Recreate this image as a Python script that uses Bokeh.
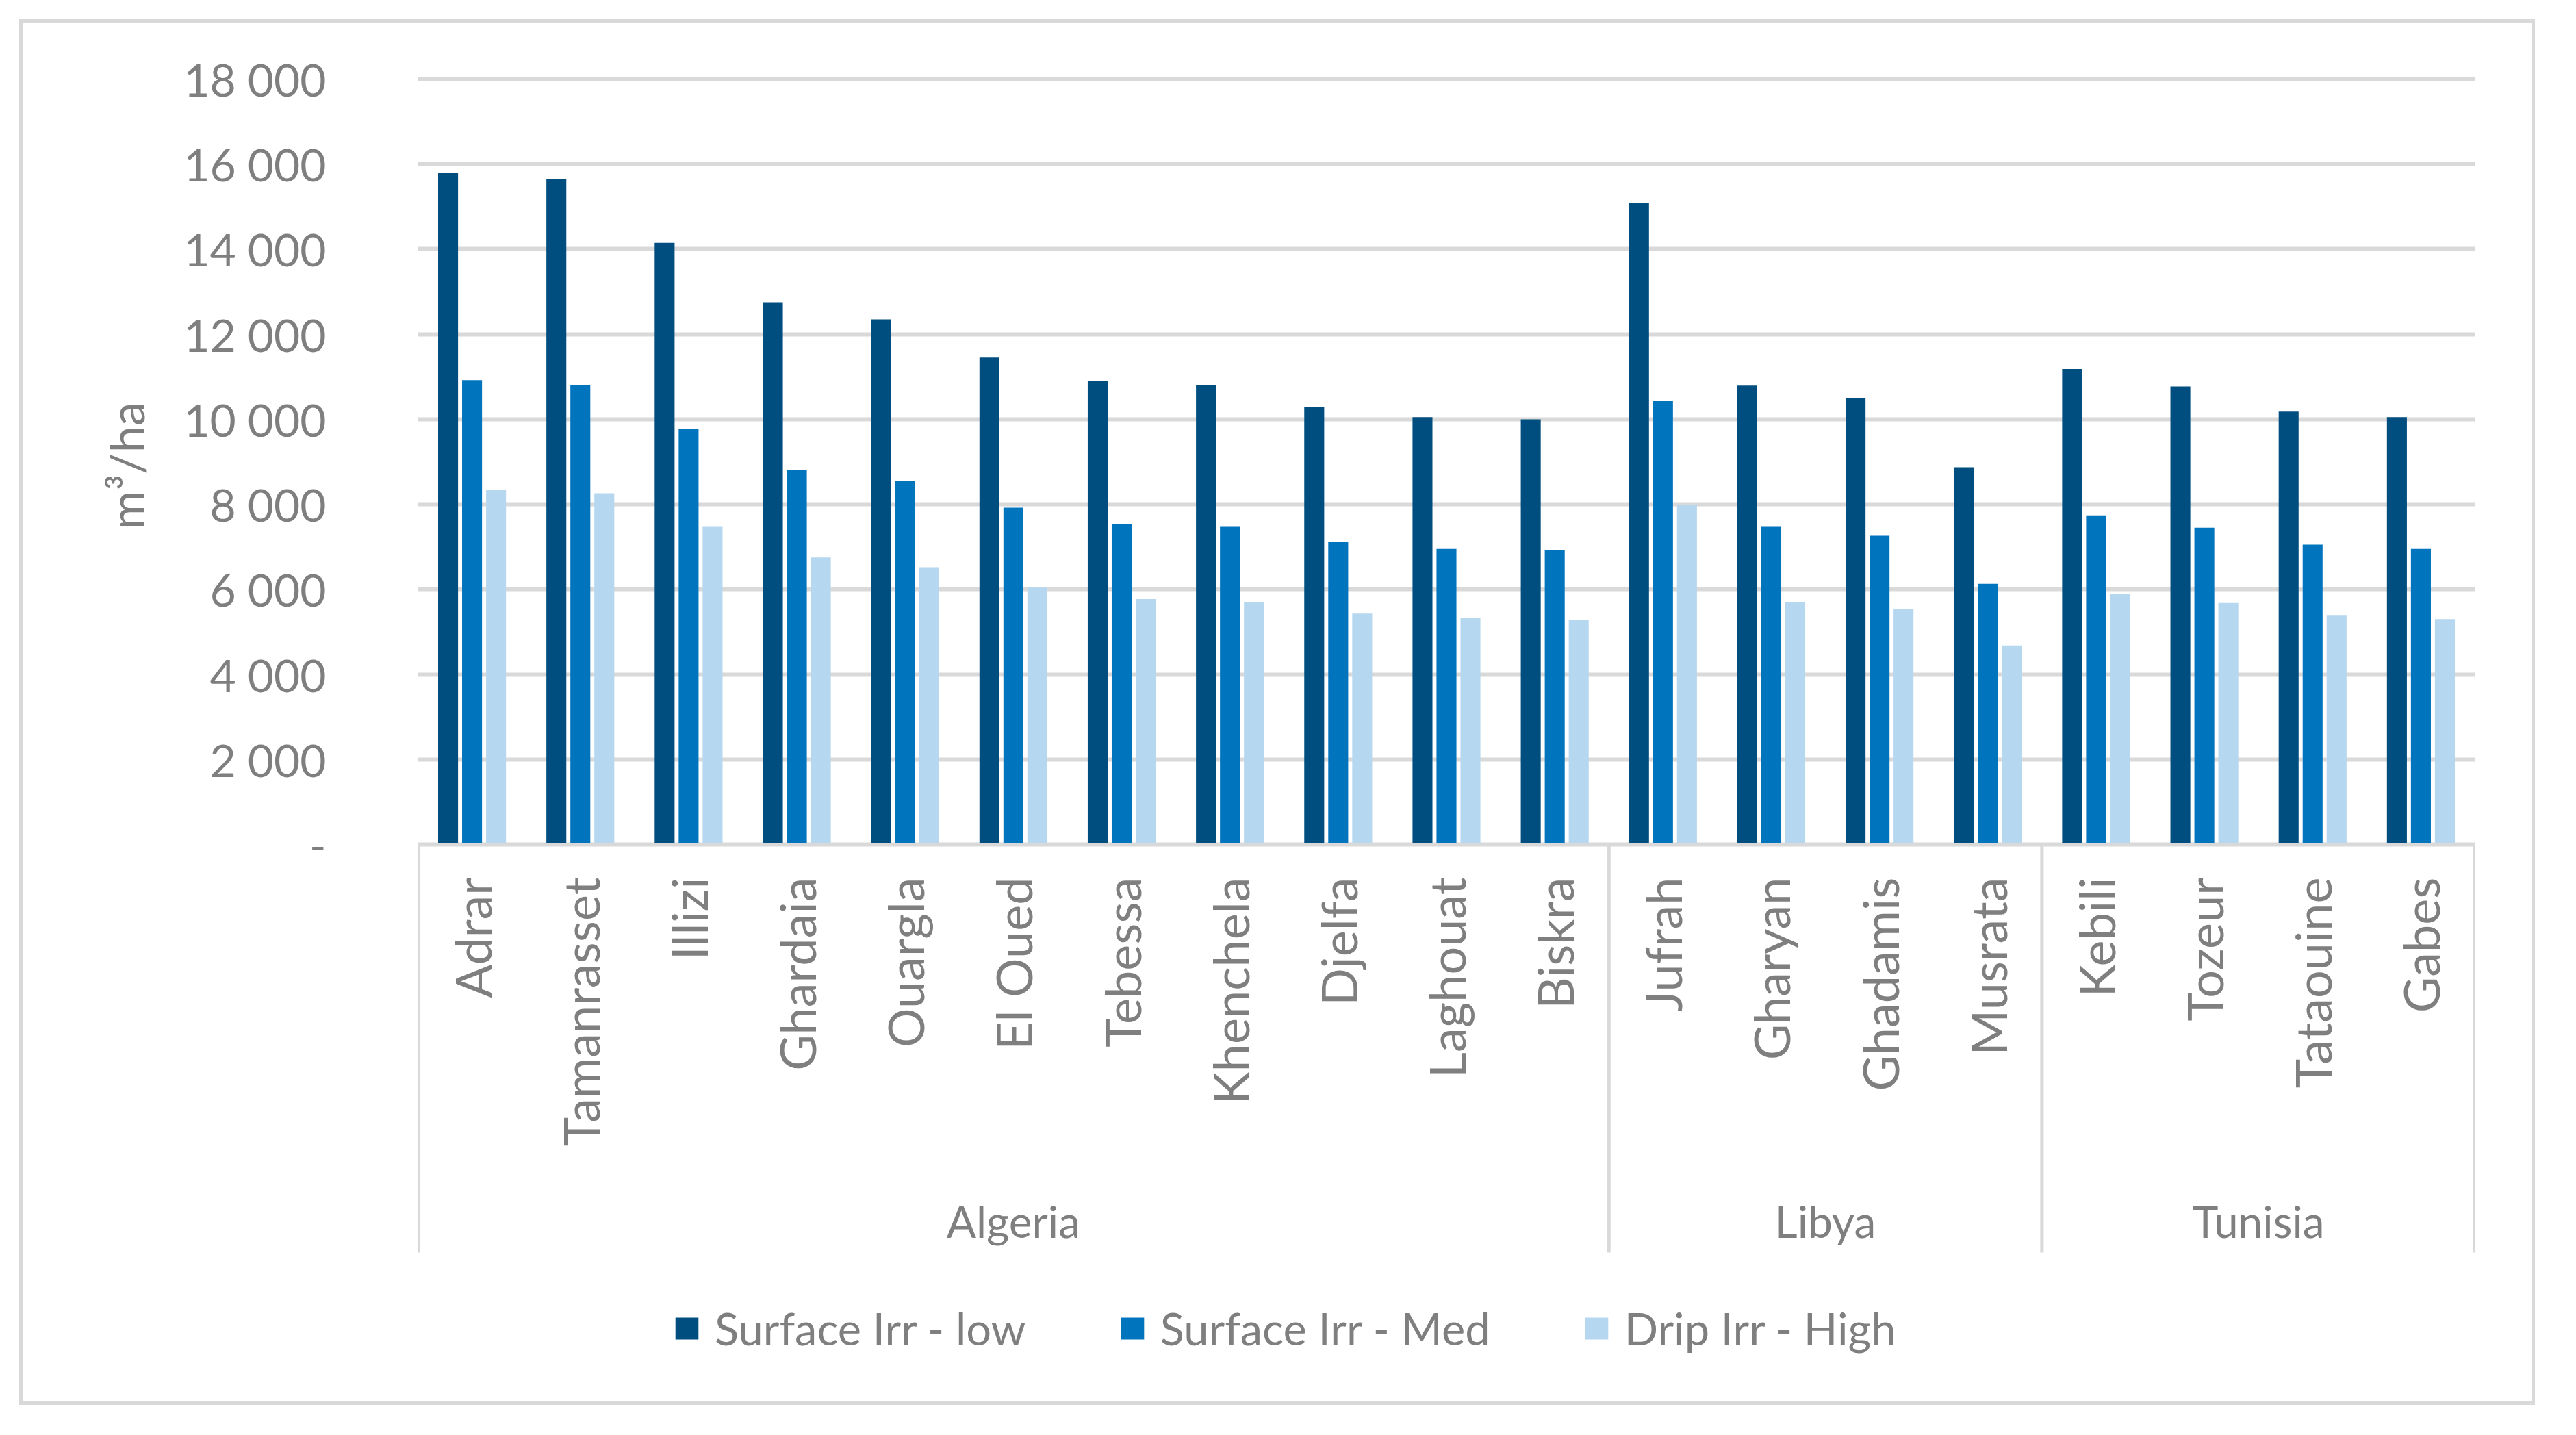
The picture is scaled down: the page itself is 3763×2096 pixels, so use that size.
import math
from bokeh.plotting import figure
from bokeh.models import (FactorRange, Range1d, FixedTicker, Legend, LegendItem,
                          Title, ColumnDataSource, InlineStyleSheet)
from bokeh.transform import dodge
from bokeh.core.properties import value
from bokeh.embed import file_html
from bokeh.resources import INLINE

# ---------------- data ----------------
countries = ["Algeria", "Libya", "Tunisia"]
algeria_regions = ["Adrar", "Tamanrasset", "Illizi", "Ghardaia", "Ouargla", "El Oued",
                   "Tebessa", "Khenchela", "Djelfa", "Laghouat", "Biskra"]
libya_regions = ["Jufrah", "Gharyan", "Ghadamis", "Musrata"]
tunisia_regions = ["Kebili", "Tozeur", "Tataouine", "Gabes"]
regions = algeria_regions + libya_regions + tunisia_regions

surface_low = [15800, 15650, 14150, 12750, 12350, 11450, 10900, 10800, 10280, 10050, 10000,
               15080, 10790, 10490, 8870,
               11180, 10770, 10180, 10050]
surface_med = [10920, 10810, 9780, 8810, 8540, 7920, 7530, 7470, 7110, 6950, 6920,
               10430, 7470, 7260, 6130,
               7740, 7450, 7050, 6950]
drip_high = [8340, 8260, 7470, 6750, 6520, 6040, 5770, 5700, 5430, 5320, 5290,
             7980, 5700, 5540, 4680,
             5900, 5680, 5380, 5300]

series_names = ["Surface Irr - low", "Surface Irr - Med", "Drip Irr - High"]
series_colors = ["#004E80", "#0074BC", "#B5D7F0"]

y_ticks = [0, 2000, 4000, 6000, 8000, 10000, 12000, 14000, 16000, 18000]
y_tick_labels = ["-", "2 000", "4 000", "6 000", "8 000", "10 000", "12 000",
                 "14 000", "16 000", "18 000"]
y_title = "m³/ha"

# ---------------- layout (page pixels) ----------------
PAGE = 8
FIG_W, FIG_H = 3731, 2080
FRAME_L, FRAME_R = 618, 3623
FRAME_T, FRAME_B = 95, 2040
Y0_PX, YTOP_PX = 1241, 123
SEP_B_PX = 1837
GROUP_PX = 1791
YTITLE_TOP_PX = 595

k = (Y0_PX - YTOP_PX) / y_ticks[-1]
y_end = y_ticks[-1] + (YTOP_PX - FRAME_T) / k
y_start = -(FRAME_B - Y0_PX) / k
sep_bottom = -(SEP_B_PX - Y0_PX) / k
group_y = -(GROUP_PX - Y0_PX) / k

GRAY = "#D9D9D9"
TEXT = "#7F7F7F"
FONT = "Lato"

p = figure(width=FIG_W, height=FIG_H,
           x_range=FactorRange(factors=regions, range_padding=0, factor_padding=0),
           y_range=Range1d(y_start, y_end),
           output_backend="svg", toolbar_location=None,
           min_border_left=FRAME_L - PAGE,
           min_border_right=PAGE + FIG_W - FRAME_R,
           min_border_top=FRAME_T - PAGE,
           min_border_bottom=PAGE + FIG_H - FRAME_B)
p.outline_line_color = None
p.background_fill_color = "white"
p.border_fill_color = None
p.border_fill_alpha = 0
# chart-area border (drawn by the page behind the transparent canvas border)
p.styles = {"outline": "5px solid #D9D9D9", "outline-offset": "-33px", "background": "white"}
p.stylesheets = [InlineStyleSheet(css=":host { outline: 5px solid #D9D9D9; outline-offset: -33px; }")]

src = ColumnDataSource(dict(region=regions, low=surface_low, med=surface_med, high=drip_high))

offsets = [-0.2215, 0.0, 0.2215]
renderers = []
for col, off, color in zip(["low", "med", "high"], offsets, series_colors):
    r = p.vbar(x=dodge("region", off, range=p.x_range), top=col, bottom=0, width=0.184,
               source=src, fill_color=color, line_color=None)
    renderers.append(r)

# grid
p.xgrid.visible = False
p.ygrid.grid_line_color = GRAY
p.ygrid.grid_line_width = 6

# y axis
yax = p.yaxis[0]
yax.ticker = FixedTicker(ticks=y_ticks)
yax.major_label_overrides = {t: s for t, s in zip(y_ticks, y_tick_labels)}
yax.axis_line_color = None
yax.major_tick_line_color = None
yax.minor_tick_line_color = None
yax.major_tick_out = 0
yax.major_tick_in = 0
yax.major_label_standoff = 134
yax.major_label_text_font = FONT
yax.major_label_text_font_size = "66px"
yax.major_label_text_color = TEXT

# y title (side panel, placed along the 0..max part of the axis)
p.add_layout(Title(text=y_title, align="right", offset=YTITLE_TOP_PX - FRAME_T, standoff=80,
                   text_font=FONT, text_font_size="70px", text_font_style="normal",
                   text_color=TEXT), "left")

# x axis at y = 0
xax = p.xaxis[0]
xax.fixed_location = 0
xax.axis_line_color = GRAY
xax.axis_line_width = 5
xax.major_tick_line_color = None
xax.minor_tick_line_color = None
xax.major_tick_out = 0
xax.major_tick_in = 0
xax.major_label_standoff = 48
xax.major_label_orientation = math.pi / 2
xax.major_label_text_font = FONT
xax.major_label_text_font_size = "72px"
xax.major_label_text_color = TEXT

# group boxes and labels
groups = [algeria_regions, libya_regions, tunisia_regions]
sep_x = [(g[0], -0.5) for g in groups] + [(groups[-1][-1], 0.5)]
p.segment(x0=sep_x, x1=sep_x, y0=[0] * len(sep_x), y1=[sep_bottom] * len(sep_x),
          line_color=GRAY, line_width=5)

gx = []
for g in groups:
    m = (len(g) - 1) / 2
    i = int(math.floor(m))
    gx.append((g[i], m - i))
p.text(x=gx, y=[group_y] * len(gx), text=countries, text_align="center",
       text_baseline="middle", text_font=value(FONT), text_font_size=value("64px"),
       text_color=TEXT)

# legend
legend = Legend(items=[LegendItem(label=n, renderers=[r]) for n, r in zip(series_names, renderers)],
                orientation="horizontal", location=(372, 53))
legend.glyph_width = 42
legend.glyph_height = 40
legend.label_standoff = 20
legend.spacing = 134
legend.padding = 0
legend.margin = 0
legend.border_line_color = None
legend.background_fill_alpha = 0
legend.label_text_font = FONT
legend.label_text_font_size = "65px"
legend.label_text_color = TEXT
p.add_layout(legend, "center")

open("out.html", "w").write(file_html(p, INLINE))
